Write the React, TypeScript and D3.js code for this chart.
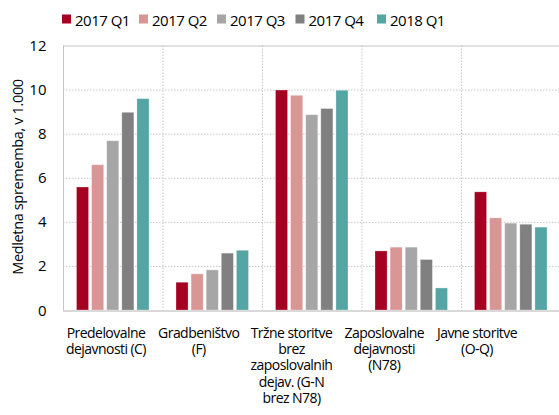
import { useEffect, useRef } from "react";
import * as d3 from "d3";

const categories = [
  ["Predelovalne", "dejavnosti (C)"],
  ["Gradbeništvo", "(F)"],
  ["Tržne storitve", "brez", "zaposlovalnih", "dejav. (G-N", "brez N78)"],
  ["Zaposlovalne", "dejavnosti", "(N78)"],
  ["Javne storitve", "(O-Q)"],
];
const seriesNames = ["2017 Q1", "2017 Q2", "2017 Q3", "2017 Q4", "2018 Q1"];
const colors = ["#a50021", "#da9694", "#a6a6a6", "#808080", "#56a5a5"];
// values per series, one per category
const q1_2017 = [5.58, 1.26, 9.98, 2.68, 5.36];
const q2_2017 = [6.59, 1.64, 9.74, 2.85, 4.18];
const q3_2017 = [7.68, 1.82, 8.86, 2.85, 3.94];
const q4_2017 = [8.97, 2.58, 9.14, 2.29, 3.89];
const q1_2018 = [9.59, 2.71, 9.97, 1.0, 3.76];
const series = [q1_2017, q2_2017, q3_2017, q4_2017, q1_2018];
const yTicks = [0, 2, 4, 6, 8, 10, 12];

export default function App() {
  const ref = useRef<SVGSVGElement | null>(null);
  const width = 559,
    height = 415;

  useEffect(() => {
    const svg = d3.select(ref.current);
    svg.selectAll("*").remove();
    const font = "'Open Sans', sans-serif";

    const left = 63,
      right = 560.5,
      top = 45.5,
      bottom = 310;

    const x = d3
      .scaleBand<number>()
      .domain(d3.range(categories.length))
      .range([left, right]);
    const inner = d3
      .scaleBand<number>()
      .domain(d3.range(seriesNames.length))
      .range([13.5, x.bandwidth() - 13.5])
      .paddingInner(0.2);
    const y = d3.scaleLinear().domain([0, 12]).range([bottom, top]);
    // category labels sit a bit tighter than the plot bands
    const xl = d3
      .scaleBand<number>()
      .domain(d3.range(categories.length))
      .range([59.6, 523.4]);

    // gridlines
    svg
      .append("g")
      .selectAll("line")
      .data(yTicks.filter((t) => t > 0 && t < 12))
      .join("line")
      .attr("x1", left)
      .attr("x2", right)
      .attr("y1", (d) => y(d) + 0.5)
      .attr("y2", (d) => y(d) + 0.5)
      .attr("stroke", "#c8c8c8")
      .attr("stroke-dasharray", "1.5,1.5");
    svg
      .append("g")
      .selectAll("line")
      .data(d3.range(1, categories.length))
      .join("line")
      .attr("x1", (d) => x(d)! + 0.5)
      .attr("x2", (d) => x(d)! + 0.5)
      .attr("y1", top)
      .attr("y2", bottom)
      .attr("stroke", "#c8c8c8")
      .attr("stroke-dasharray", "1.5,1.5");

    // frame
    svg
      .append("line")
      .attr("x1", left)
      .attr("x2", right)
      .attr("y1", top + 0.5)
      .attr("y2", top + 0.5)
      .attr("stroke", "#c4c4c4");
    svg
      .append("line")
      .attr("x1", left + 0.5)
      .attr("x2", left + 0.5)
      .attr("y1", top)
      .attr("y2", bottom)
      .attr("stroke", "#c4c4c4");

    // bars
    series.forEach((vals, si) => {
      svg
        .append("g")
        .selectAll("rect")
        .data(vals)
        .join("rect")
        .attr("x", (_, ci) => x(ci)! + inner(si)!)
        .attr("width", inner.bandwidth())
        .attr("y", (d) => y(d))
        .attr("height", (d) => bottom - y(d))
        .attr("fill", colors[si])
        .attr("stroke", "#ffffff")
        .attr("stroke-opacity", 0.35)
        .attr("stroke-width", 0.8);
    });

    // x axis line
    svg
      .append("line")
      .attr("x1", left)
      .attr("x2", right)
      .attr("y1", bottom + 1)
      .attr("y2", bottom + 1)
      .attr("stroke", "#d9d9d9")
      .attr("stroke-width", 2);

    // y tick labels
    svg
      .append("g")
      .selectAll("text")
      .data(yTicks)
      .join("text")
      .attr("x", 46.5)
      .attr("y", (d) => y(d) + 5.5)
      .attr("text-anchor", "end")
      .attr("font-family", font)
      .attr("font-size", 15)
      .attr("fill", "#000")
      .text((d) => d);

    // y title
    svg
      .append("text")
      .attr("transform", `translate(22.5,177) rotate(-90)`)
      .attr("text-anchor", "middle")
      .attr("font-family", font)
      .attr("font-size", 14.5)
      .attr("letter-spacing", -0.35)
      .attr("fill", "#000")
      .text("Medletna sprememba, v 1.000");

    // category labels
    const lab = svg
      .append("g")
      .selectAll("text")
      .data(categories)
      .join("text")
      .attr("text-anchor", "middle")
      .attr("font-family", font)
      .attr("font-size", 14)
      .attr("letter-spacing", -0.55)
      .attr("fill", "#000");
    lab
      .selectAll("tspan")
      .data((d, i) => d.map((s) => ({ s, i })))
      .join("tspan")
      .attr("x", (d) => xl(d.i)! + xl.bandwidth() / 2)
      .attr("y", (_, j) => 337.5 + j * 16.4)
      .text((d) => d.s);

    // legend
    const legX = [62, 139, 217, 295.5, 377];
    const leg = svg
      .append("g")
      .selectAll("g")
      .data(seriesNames)
      .join("g")
      .attr("transform", (_, i) => `translate(${legX[i]},0)`);
    leg
      .append("rect")
      .attr("x", 0)
      .attr("y", 14.5)
      .attr("width", 9)
      .attr("height", 9)
      .attr("fill", (_, i) => colors[i]);
    leg
      .append("text")
      .attr("x", 13)
      .attr("y", 25.5)
      .attr("font-family", font)
      .attr("font-size", 15)
      .attr("letter-spacing", -0.5)
      .attr("fill", "#000")
      .text((d) => d);
  }, []);

  return (
    <svg
      ref={ref}
      width={width}
      height={height}
      style={{ position: "absolute", left: 0, top: 0, background: "#fff" }}
    />
  );
}
